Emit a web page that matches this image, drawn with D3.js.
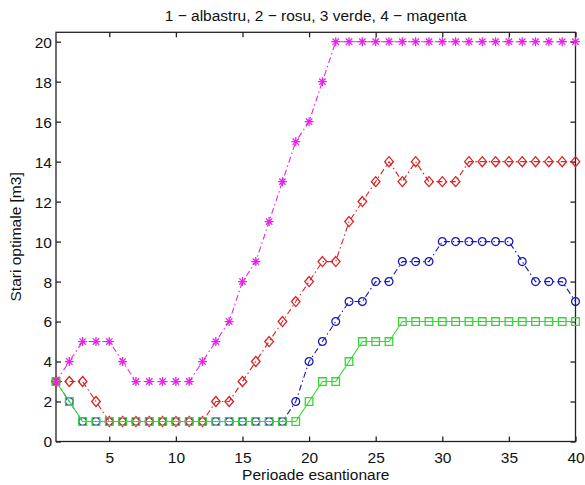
<!DOCTYPE html>
<html><head><meta charset="utf-8">
<script src="https://cdn.jsdelivr.net/npm/d3@7"></script>
<style>
html,body{margin:0;padding:0;background:#fff;}
text{font-family:"Liberation Sans",Arial,sans-serif;fill:#111;}
</style></head>
<body><svg id="c" width="585" height="485"></svg>
<script>
const periods = [1,2,3,4,5,6,7,8,9,10,11,12,13,14,15,16,17,18,19,20,21,22,23,24,25,26,27,28,29,30,31,32,33,34,35,36,37,38,39,40];
const blue    = [3,2,1,1,1,1,1,1,1,1,1,1,1,1,1,1,1,1,2,4,5,6,7,7,8,8,9,9,9,10,10,10,10,10,10,9,8,8,8,7];
const red     = [3,3,3,2,1,1,1,1,1,1,1,1,2,2,3,4,5,6,7,8,9,9,11,12,13,14,13,14,13,13,13,14,14,14,14,14,14,14,14,14];
const green   = [3,2,1,1,1,1,1,1,1,1,1,1,1,1,1,1,1,1,1,2,3,3,4,5,5,5,6,6,6,6,6,6,6,6,6,6,6,6,6,6];
const magenta = [3,4,5,5,5,4,3,3,3,3,3,4,5,6,8,9,11,13,15,16,18,20,20,20,20,20,20,20,20,20,20,20,20,20,20,20,20,20,20,20];
const xTicks = [5,10,15,20,25,30,35,40];
const yTicks = [0,2,4,6,8,10,12,14,16,18,20];
const titleText = "1 \u2212 albastru, 2 \u2212 rosu, 3 verde, 4 \u2212 magenta";
const xLabel = "Perioade esantionare";
const yLabel = "Stari optimale [m3]";

const svg = d3.select("#c");
const L = 56, R = 575.5, T = 32.3, B = 441.5;
const x = d3.scaleLinear().domain([1,40]).range([L,R]);
const y = d3.scaleLinear().domain([0,20.47]).range([B,T]);

svg.append("rect").attr("x",L).attr("y",T).attr("width",R-L).attr("height",B-T)
  .attr("fill","none").attr("stroke","#222").attr("stroke-width",1.3);

const fs = 15.5;
const ax = svg.append("g").attr("transform",`translate(0,${B})`)
  .call(d3.axisBottom(x).tickValues(xTicks).tickSize(-5).tickPadding(10).tickFormat(d3.format("d")));
const ay = svg.append("g").attr("transform",`translate(${L},0)`)
  .call(d3.axisLeft(y).tickValues(yTicks).tickSize(-5).tickPadding(4).tickFormat(d3.format("d")));
const at = svg.append("g").attr("transform",`translate(0,${T})`)
  .call(d3.axisTop(x).tickValues(xTicks).tickSize(-5).tickFormat(""));
const ar = svg.append("g").attr("transform",`translate(${R},0)`)
  .call(d3.axisRight(y).tickValues(yTicks).tickSize(-5).tickFormat(""));
[ax,ay,at,ar].forEach(g=>{
  g.select(".domain").remove();
  g.selectAll(".tick line").attr("stroke","#222").attr("stroke-width",1.3);
  g.selectAll("text").style("font-size",fs+"px").attr("fill","#111")
   .style("font-family","'Liberation Sans',Arial,sans-serif");
});
ay.selectAll("text").attr("dy","0.35em");

const series = [
  {vals: blue, color:"#1a1ab8", dash:"6,3,1.5,3", marker:"circle"},
  {vals: red, color:"#dd2020", dash:"6,3,1.5,3", marker:"diamond"},
  {vals: green, color:"#2edc2e", dash:null, marker:"square"},
  {vals: magenta, color:"#ee1eee", dash:"6,3,1.5,3", marker:"star"}
];
const line = d3.line().x((d,i)=>x(periods[i])).y(d=>y(d));
const markerPath = {
  circle: d3.symbol(d3.symbolCircle, 48)(),
  square: "M-3.8,-3.8H3.8V3.8H-3.8Z",
  diamond: "M0,-5L4.3,0L0,5L-4.3,0Z",
  star: "M-4.5,0H4.5M0,-4.5V4.5M-3.2,-3.2L3.2,3.2M-3.2,3.2L3.2,-3.2"
};
series.forEach(s=>{
  const g = svg.append("g");
  g.append("path").datum(s.vals).attr("d",line).attr("fill","none")
    .attr("stroke",s.color).attr("stroke-width",1.1)
    .attr("stroke-dasharray",s.dash);
  g.selectAll("path.m").data(s.vals).join("path").attr("class","m")
    .attr("d",markerPath[s.marker])
    .attr("transform",(d,i)=>`translate(${x(periods[i])},${y(d)})`)
    .attr("fill","none").attr("stroke",s.color).attr("stroke-width",1.3);
});

svg.append("text").attr("x",(L+R)/2).attr("y",21).attr("text-anchor","middle")
  .style("font-size",fs+"px").text(titleText);
svg.append("text").attr("x",(L+R)/2).attr("y",480).attr("text-anchor","middle")
  .style("font-size",fs+"px").text(xLabel);
svg.append("text").attr("transform",`translate(21,${(T+B)/2}) rotate(-90)`)
  .attr("text-anchor","middle").style("font-size",fs+"px").text(yLabel);
</script></body></html>
